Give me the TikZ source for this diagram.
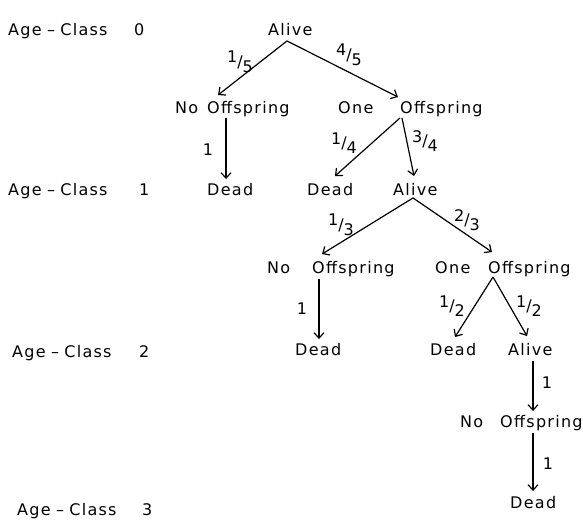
\documentclass[tikz,border=0pt]{standalone}
\usepackage{fontspec}
\setmainfont[LetterSpace=8]{DejaVu Sans}
\usetikzlibrary{arrows.meta}
\newcommand\fr[2]{\raisebox{.55ex}{#1}/\raisebox{-.55ex}{#2}}
\begin{document}
\begin{tikzpicture}[x=1pt,y=1pt,
  txt/.style={anchor=west,inner xsep=0pt,inner ysep=1.5pt,text height=12pt,text depth=3.5pt,font=\fontsize{16}{19}\selectfont},
  lab/.style={inner sep=0pt,font=\fontsize{16}{19}\selectfont},
  arr/.style={line width=1.2pt,-{Straight Barb[length=5.5pt,width=10pt,line width=1.2pt]}}]
\useasboundingbox (0,0) rectangle (583,-521);
% age-class labels
\node[txt] (ac0) at (8,-31.5) {Age\,\,--\,\,Class};
\node[txt] (n0) at (134,-31.5) {0};
\node[txt] (ac1) at (8,-191.5) {Age\,\,--\,\,Class};
\node[txt] (n1) at (139,-191.5) {1};
\node[txt] (ac2) at (12,-353.5) {Age\,\,--\,\,Class};
\node[txt] (n2) at (139,-353.5) {2};
\node[txt] (ac3) at (17,-511.5) {Age\,\,--\,\,Class};
\node[txt] (n3) at (142,-511.5) {3};
% tree nodes
\node[txt] (alive0) at (268,-31.5) {Alive};
\node[txt] (noA) at (175,-109.5) {No};
\node[txt] (offA) at (207,-109.5) {Offspring};
\node[txt] (oneB) at (338,-109.5) {One};
\node[txt] (offB) at (400,-109.5) {Offspring};
\node[txt] (deadA) at (207,-191.5) {Dead};
\node[txt] (deadB) at (307,-191.5) {Dead};
\node[txt] (alive1) at (393,-191.5) {Alive};
\node[txt] (noC) at (267,-269.5) {No};
\node[txt] (offC) at (312,-269.5) {Offspring};
\node[txt] (oneD) at (435,-269.5) {One};
\node[txt] (offD) at (488,-269.5) {Offspring};
\node[txt] (deadC) at (295,-351.5) {Dead};
\node[txt] (deadD) at (430,-351.5) {Dead};
\node[txt] (alive2) at (508,-351.5) {Alive};
\node[txt] (noE) at (460,-423.5) {No};
\node[txt] (offE) at (500,-423.5) {Offspring};
\node[txt] (deadE) at (510,-504.5) {Dead};
% arrows
\draw[arr] ([xshift=19pt]alive0.south west) -- ([xshift=11pt,yshift=5pt]offA.north west);
\draw[arr] ([xshift=19pt]alive0.south west) -- ([xshift=-2pt,yshift=3pt]offB.north west);
\draw[arr] ([xshift=19pt,yshift=1pt]offA.south west) -- ([xshift=19pt,yshift=3pt]deadA.north west);
\draw[arr] ([yshift=1pt]offB.south west) -- ([xshift=28pt,yshift=6pt]deadB.north west);
\draw[arr] ([xshift=2pt,yshift=1pt]offB.south west) -- ([xshift=21pt,yshift=6pt]alive1.north west);
\draw[arr] ([xshift=20pt,yshift=3pt]alive1.south west) -- ([xshift=10pt,yshift=6pt]offC.north west);
\draw[arr] ([xshift=20pt,yshift=3pt]alive1.south west) -- ([xshift=4pt,yshift=8pt]offD.north west);
\draw[arr] ([xshift=7pt]offC.south west) -- ([xshift=24pt,yshift=3pt]deadC.north west);
\draw[arr] ([xshift=5pt,yshift=2pt]offD.south west) -- ([xshift=25pt,yshift=5pt]deadD.north west);
\draw[arr] ([xshift=5pt,yshift=2pt]offD.south west) -- ([xshift=19pt,yshift=6pt]alive2.north west);
\draw[arr] ([xshift=25pt]alive2.south west) -- ([xshift=33pt,yshift=3pt]offE.north west);
\draw[arr] ([xshift=33pt]offE.south west) -- ([xshift=23pt,yshift=4pt]deadE.north west);
% probability labels
\node[lab] (p1) at (240,-62) {\fr{1}{5}};
\node[lab] (p2) at (349,-55) {\fr{4}{5}};
\node[lab] (p3) at (208,-150) {1};
\node[lab] (p4) at (344,-143) {\fr{1}{4}};
\node[lab] (p5) at (425,-141) {\fr{3}{4}};
\node[lab] (p6) at (341,-225) {\fr{1}{3}};
\node[lab] (p7) at (467,-220) {\fr{2}{3}};
\node[lab] (p8) at (302,-309) {1};
\node[lab] (p9) at (452,-306) {\fr{1}{2}};
\node[lab] (p10) at (529,-306) {\fr{1}{2}};
\node[lab] (p11) at (547,-383) {1};
\node[lab] (p12) at (548,-464) {1};
\end{tikzpicture}
\end{document}
